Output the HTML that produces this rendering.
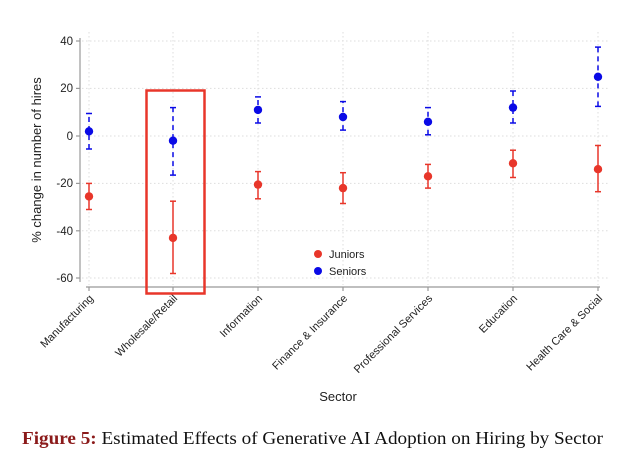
<!DOCTYPE html>
<html><head><meta charset="utf-8"><style>
body{margin:0;background:#fff;width:640px;height:463px;overflow:hidden}
</style></head><body>
<svg width="640" height="463" xmlns="http://www.w3.org/2000/svg" font-family="Liberation Sans, Arial, sans-serif">
<g stroke="#ddd" stroke-dasharray="1.5,2.5" stroke-width="1">
<line x1="82" y1="41" x2="610" y2="41"/><line x1="82" y1="88.4" x2="610" y2="88.4"/>
<line x1="82" y1="136" x2="610" y2="136"/><line x1="82" y1="183.4" x2="610" y2="183.4"/>
<line x1="82" y1="230.8" x2="610" y2="230.8"/><line x1="82" y1="278" x2="610" y2="278"/>
<line x1="89" y1="32" x2="89" y2="285"/><line x1="173" y1="32" x2="173" y2="285"/>
<line x1="258" y1="32" x2="258" y2="285"/><line x1="343" y1="32" x2="343" y2="285"/>
<line x1="428" y1="32" x2="428" y2="285"/><line x1="513" y1="32" x2="513" y2="285"/>
<line x1="598" y1="32" x2="598" y2="285"/>
</g>
<g stroke="#999" stroke-width="1.2">
<line x1="80" y1="38" x2="80" y2="282"/>
<line x1="76" y1="41" x2="80" y2="41"/><line x1="76" y1="88.4" x2="80" y2="88.4"/><line x1="76" y1="136" x2="80" y2="136"/><line x1="76" y1="183.4" x2="80" y2="183.4"/><line x1="76" y1="230.8" x2="80" y2="230.8"/><line x1="76" y1="278" x2="80" y2="278"/>
<line x1="86" y1="287" x2="600" y2="287"/>
<line x1="89" y1="287" x2="89" y2="291"/><line x1="173" y1="287" x2="173" y2="291"/><line x1="258" y1="287" x2="258" y2="291"/><line x1="343" y1="287" x2="343" y2="291"/><line x1="428" y1="287" x2="428" y2="291"/><line x1="513" y1="287" x2="513" y2="291"/><line x1="598" y1="287" x2="598" y2="291"/>
</g>
<g font-size="11.5" fill="#222" text-anchor="end">
<text x="73" y="45">40</text><text x="73" y="92">20</text><text x="73" y="140">0</text><text x="73" y="187">-20</text><text x="73" y="235">-40</text><text x="73" y="282">-60</text>
</g>
<text transform="translate(41,160) rotate(-90)" font-size="13" fill="#222" text-anchor="middle">% change in number of hires</text>
<g font-size="11" fill="#222" text-anchor="end">
<text transform="translate(94,299) rotate(-45)">Manufacturing</text>
<text transform="translate(178,299) rotate(-45)">Wholesale/Retail</text>
<text transform="translate(263,299) rotate(-45)">Information</text>
<text transform="translate(348,299) rotate(-45)">Finance &amp; Insurance</text>
<text transform="translate(433,299) rotate(-45)">Professional Services</text>
<text transform="translate(518,299) rotate(-45)">Education</text>
<text transform="translate(603,299) rotate(-45)">Health Care &amp; Social</text>
</g>
<text x="338" y="401" font-size="13" fill="#222" text-anchor="middle">Sector</text>
<g stroke="#e8362a" stroke-width="1.5" fill="#e8362a">
<line x1="89" y1="209.5" x2="89" y2="183.4"/><line x1="86" y1="209.5" x2="92" y2="209.5"/><line x1="86" y1="183.4" x2="92" y2="183.4"/><circle cx="89" cy="196.4" r="4.2" stroke="none"/>
<line x1="173" y1="273.5" x2="173" y2="201.2"/><line x1="170" y1="273.5" x2="176" y2="273.5"/><line x1="170" y1="201.2" x2="176" y2="201.2"/><circle cx="173" cy="237.9" r="4.2" stroke="none"/>
<line x1="258" y1="198.8" x2="258" y2="171.6"/><line x1="255" y1="198.8" x2="261" y2="198.8"/><line x1="255" y1="171.6" x2="261" y2="171.6"/><circle cx="258" cy="184.6" r="4.2" stroke="none"/>
<line x1="343" y1="203.5" x2="343" y2="172.7"/><line x1="340" y1="203.5" x2="346" y2="203.5"/><line x1="340" y1="172.7" x2="346" y2="172.7"/><circle cx="343" cy="188.1" r="4.2" stroke="none"/>
<line x1="428" y1="188.1" x2="428" y2="164.4"/><line x1="425" y1="188.1" x2="431" y2="188.1"/><line x1="425" y1="164.4" x2="431" y2="164.4"/><circle cx="428" cy="176.3" r="4.2" stroke="none"/>
<line x1="513" y1="177.5" x2="513" y2="150.2"/><line x1="510" y1="177.5" x2="516" y2="177.5"/><line x1="510" y1="150.2" x2="516" y2="150.2"/><circle cx="513" cy="163.3" r="4.2" stroke="none"/>
<line x1="598" y1="191.7" x2="598" y2="145.5"/><line x1="595" y1="191.7" x2="601" y2="191.7"/><line x1="595" y1="145.5" x2="601" y2="145.5"/><circle cx="598" cy="169.2" r="4.2" stroke="none"/>
</g>
<g stroke="#0a0ae6" stroke-width="1.5" fill="#0a0ae6">
<g stroke-dasharray="5,4">
<line x1="89" y1="149" x2="89" y2="113.5"/><line x1="173" y1="175.1" x2="173" y2="107.6"/><line x1="258" y1="123" x2="258" y2="96.9"/><line x1="343" y1="130.1" x2="343" y2="101.6"/><line x1="428" y1="134.8" x2="428" y2="107.6"/><line x1="513" y1="123" x2="513" y2="91"/><line x1="598" y1="106.4" x2="598" y2="47.1"/>
</g>
<line x1="86" y1="149" x2="92" y2="149"/><line x1="86" y1="113.5" x2="92" y2="113.5"/><circle cx="89" cy="131.3" r="4.2" stroke="none"/>
<line x1="170" y1="175.1" x2="176" y2="175.1"/><line x1="170" y1="107.6" x2="176" y2="107.6"/><circle cx="173" cy="140.7" r="4.2" stroke="none"/>
<line x1="255" y1="123" x2="261" y2="123"/><line x1="255" y1="96.9" x2="261" y2="96.9"/><circle cx="258" cy="109.9" r="4.2" stroke="none"/>
<line x1="340" y1="130.1" x2="346" y2="130.1"/><line x1="340" y1="101.6" x2="346" y2="101.6"/><circle cx="343" cy="117" r="4.2" stroke="none"/>
<line x1="425" y1="134.8" x2="431" y2="134.8"/><line x1="425" y1="107.6" x2="431" y2="107.6"/><circle cx="428" cy="121.8" r="4.2" stroke="none"/>
<line x1="510" y1="123" x2="516" y2="123"/><line x1="510" y1="91" x2="516" y2="91"/><circle cx="513" cy="107.6" r="4.2" stroke="none"/>
<line x1="595" y1="106.4" x2="601" y2="106.4"/><line x1="595" y1="47.1" x2="601" y2="47.1"/><circle cx="598" cy="76.8" r="4.2" stroke="none"/>
</g>
<rect x="146.5" y="90.5" width="58" height="203" fill="none" stroke="#e8362a" stroke-width="2.5"/>
<circle cx="318" cy="254" r="4" fill="#e8362a"/><text x="329" y="258" font-size="11" fill="#222">Juniors</text>
<circle cx="318" cy="271" r="4" fill="#0a0ae6"/><text x="329" y="275" font-size="11" fill="#222">Seniors</text>
<text x="22" y="444" font-family="Liberation Serif, serif" font-size="17.5" fill="#111" textLength="581" lengthAdjust="spacingAndGlyphs"><tspan fill="#8b1a1a" font-weight="bold">Figure 5:</tspan> Estimated Effects of Generative AI Adoption on Hiring by Sector</text>
</svg>
</body></html>
